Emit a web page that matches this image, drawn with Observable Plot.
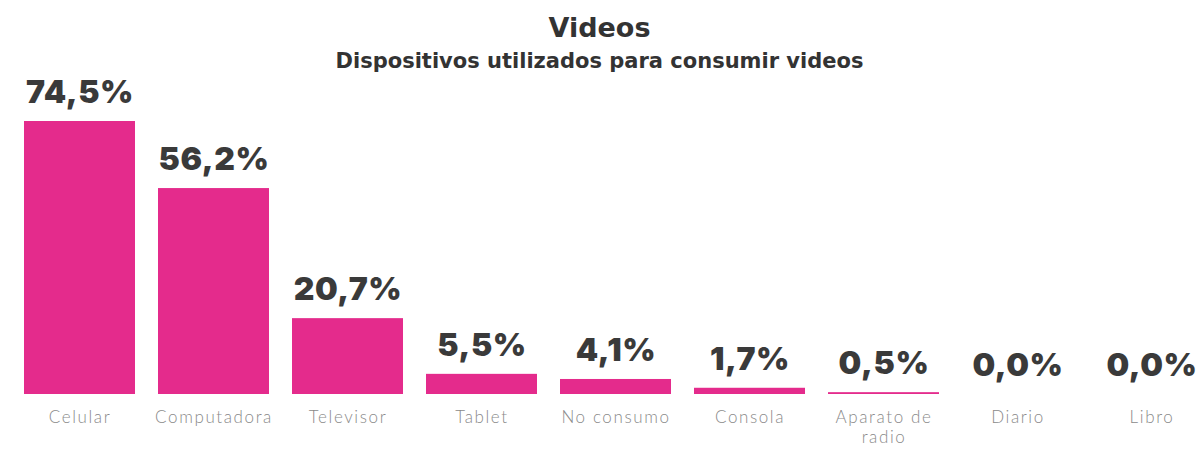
<!DOCTYPE html>
<html>
<head>
<meta charset="utf-8">
<script src="https://cdn.jsdelivr.net/npm/d3@7"></script>
<script src="https://cdn.jsdelivr.net/npm/@observablehq/plot@0.6"></script>
<style>
  html, body { margin: 0; padding: 0; background: #fff; }
  #wrap { width: 1199px; }
  .title { font-family: "DejaVu Sans", Inter, sans-serif; font-weight: 700; font-size: 27px; color: #333; text-align: center; padding-top: 11px; height: 36px; line-height: 34px; }
  .subtitle { font-family: "DejaVu Sans", Inter, sans-serif; font-weight: 700; font-size: 21px; color: #333; text-align: center; height: 26px; line-height: 28px; }
  svg { display: block; }
  svg g[aria-label="x-axis tick label"] text { letter-spacing: 1.6px; }
  svg g[aria-label="text"] text { letter-spacing: 0.6px; }
</style>
</head>
<body>
<div id="wrap">
  <div class="title">Videos</div>
  <div class="subtitle">Dispositivos utilizados para consumir videos</div>
  <div id="chart"></div>
</div>
<script>
const categories = ["Celular", "Computadora", "Televisor", "Tablet", "No consumo", "Consola", "Aparato de radio", "Diario", "Libro"];
const tickLabels = ["Celular", "Computadora", "Televisor", "Tablet", "No consumo", "Consola", "Aparato de\nradio", "Diario", "Libro"];
const values = [74.5, 56.2, 20.7, 5.5, 4.1, 1.7, 0.5, 0.0, 0.0];

const data = categories.map((c, i) => ({category: c, value: values[i]}));
const fmt = v => v.toFixed(1).replace(".", ",") + "%";

const chart = Plot.plot({
  width: 1199,
  height: 377,
  marginTop: 48,
  marginBottom: 56,
  marginLeft: 13,
  marginRight: -20,
  x: {domain: categories, paddingInner: 0.17, paddingOuter: 0.085, label: null},
  y: {domain: [0, 74.5], axis: null},
  style: {background: "#fff"},
  marks: [
    Plot.barY(data, {x: "category", y: "value", fill: "#E42B8C"}),
    Plot.text(data, {x: "category", y: "value", text: d => fmt(d.value), dy: -29,
      fontSize: 32, fontWeight: 900, fill: "#3a3a3a", fontFamily: "Inter, 'Open Sans', sans-serif", lineAnchor: "middle"}),
    Plot.axisX({tickSize: 0, tickPadding: 14, fontSize: 17, lineHeight: 1.2, fill: "#8a8a8a",
      fontFamily: "Lato, 'Open Sans', sans-serif", fontWeight: 300, lineAnchor: "top",
      tickFormat: c => tickLabels[categories.indexOf(c)], label: null})
  ]
});
document.getElementById("chart").appendChild(chart);
</script>
</body>
</html>
